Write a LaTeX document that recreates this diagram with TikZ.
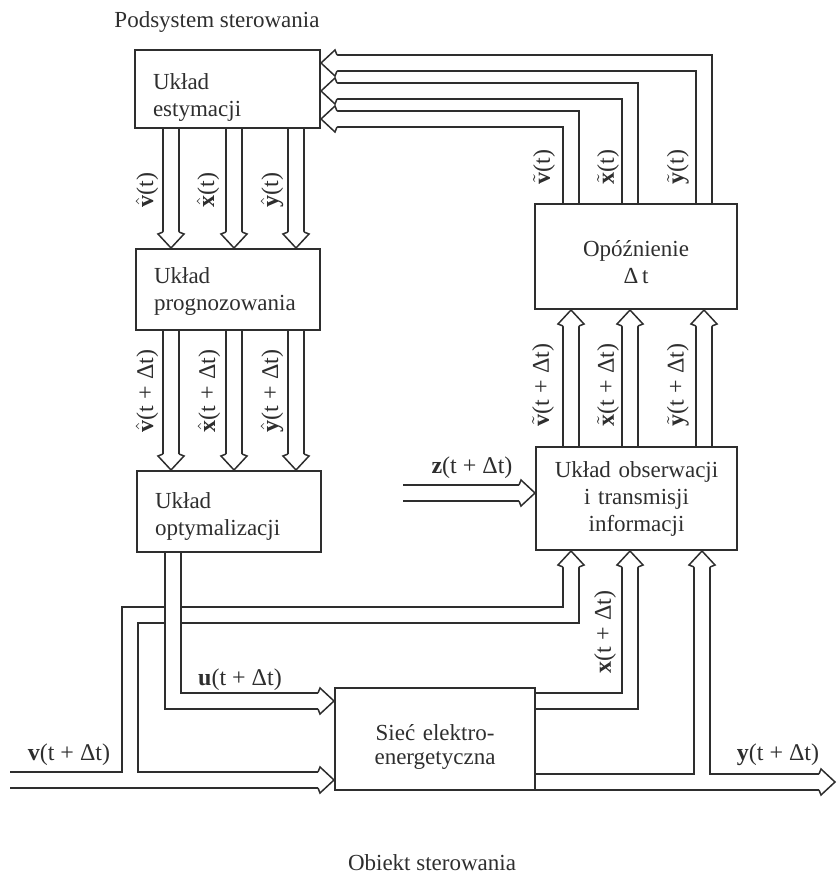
\documentclass[tikz,border=0pt]{standalone}
\usepackage{fontspec}
\setmainfont{Liberation Serif}
\usetikzlibrary{backgrounds}
\definecolor{ink}{HTML}{2E2E2E}
\newcommand\hatb[1]{$\hat{\mbox{\bfseries #1}}$}
\newcommand\tilb[1]{$\tilde{\mbox{\bfseries #1}}$}
\newcommand\pushd[1]{\rule{0pt}{#1pt}}
\tikzset{
  box/.style={draw=ink, line width=1pt, inner xsep=9pt, inner ysep=0pt,
    font=\fontsize{11.5}{13.5}\selectfont, text=ink},
  boxl/.style={box, align=left},
  boxc/.style={box, align=center},
  dbl/.style={draw=ink, line width=0.75pt, double=white, double distance=7.25pt},
  dblin/.style={draw=white, line width=7.25pt},
  lbl/.style={font=\fontsize{12}{14}\selectfont, text=ink, inner sep=0pt},
  capt/.style={font=\fontsize{11.5}{13.5}\selectfont, text=ink, inner sep=0pt},
  hd/.pic={\draw[draw=ink, line width=0.75pt, fill=white, line join=miter]
     (-16,-8) -- (-14,-13) -- (0,0) -- (-14,13) -- (-16,8);},
}
\begin{document}
\begin{tikzpicture}[x=0.5pt, y=-0.5pt]
\useasboundingbox (0,0) rectangle (837,877);

% boxes
\node[boxl, text width=74.5pt, minimum height=39pt] (est) at (227.5,89) {\pushd{16}Układ\\estymacji};
\node[boxl, text width=74pt, minimum height=40.5pt] (prog) at (228,289.5) {\pushd{10}Układ\\prognozowania};
\node[boxl, text width=74pt, minimum height=40.5pt] (opt) at (229,511.5) {\pushd{13}Układ\\optymalizacji};
\node[boxc, text width=83pt, minimum height=52.5pt] (opo) at (636,256.5) {\pushd{13.5}Opóźnienie\\Δ\,t};
\node[boxc, text width=82.5pt, minimum height=51.5pt] (obs) at (636.5,498.5) {Układ obserwacji\\i transmisji\\informacji};
\node[boxc, text width=82pt, minimum height=51pt, font=\fontsize{11.5}{12}\selectfont] (siec) at (435,739) {\pushd{16}Sieć elektro-\\energetyczna};

\coordinate (vin) at (10,780);
\coordinate (yout) at (835,782);
\coordinate (zin) at (403,493);

\begin{scope}[on background layer]
% estymacja -> prognozowanie -> optymalizacja
\foreach \x in {171,234,296} {
  \draw[dbl, shorten >=8pt] (\x,0 |- est.south) -- (\x,0 |- prog.north);
  \pic[rotate=-90] at (\x,0 |- prog.north) {hd};
  \draw[dbl, shorten >=8pt] (\x,0 |- prog.south) -- (\x,0 |- opt.north);
  \pic[rotate=-90] at (\x,0 |- opt.north) {hd};
}
% obserwacja -> opoznienie
\foreach \x in {571,630,704} {
  \draw[dbl, shorten >=8pt] (\x,0 |- obs.north) -- (\x,0 |- opo.south);
  \pic[rotate=90] at (\x,0 |- opo.south) {hd};
}
% opoznienie -> estymacja
\foreach \x/\y in {571/119,630/91,704/63} {
  \draw[dbl, shorten >=8pt] (\x,0 |- opo.north) |- (est.east |- 0,\y);
  \pic[rotate=180] at (est.east |- 0,\y) {hd};
}
% z input
\draw[dbl, shorten >=8pt] (zin) -- (obs.west |- zin);
\pic at (obs.west |- zin) {hd};
% v input with branch
\draw[dbl, shorten >=8pt] (vin) -| (130,615) -| (571,0 |- obs.south);
\pic[rotate=90] at (571,0 |- obs.south) {hd};
\draw[dbl, shorten >=8pt] (vin) -- (siec.west |- vin);
\pic at (siec.west |- vin) {hd};
\draw[dblin] (vin) -| (130,700);
% u
\draw[dbl, shorten >=8pt] (173,0 |- opt.south) |- (siec.west |- 0,701);
\pic at (siec.west |- 0,701) {hd};
% x
\draw[dbl, shorten >=8pt] (siec.east |- 0,701) -| (630,0 |- obs.south);
\pic[rotate=90] at (630,0 |- obs.south) {hd};
% y output with branch
\draw[dbl, shorten >=8pt] (siec.east |- yout) -| (702,0 |- obs.south);
\pic[rotate=90] at (702,0 |- obs.south) {hd};
\draw[dbl, shorten >=8pt] (siec.east |- yout) -- (yout);
\pic at (yout) {hd};
\draw[dblin] (siec.east |- yout) -| (702,740);
\end{scope}

% labels
\node[lbl, rotate=90] (l1) at (147,190) {\hatb{v}(t)};
\node[lbl, rotate=90] (l2) at (208,190) {\hatb{x}(t)};
\node[lbl, rotate=90] (l3) at (272,190) {\hatb{y}(t)};
\node[lbl, rotate=90] (l4) at (147,391) {\hatb{v}(t + Δt)};
\node[lbl, rotate=90] (l5) at (209,391) {\hatb{x}(t + Δt)};
\node[lbl, rotate=90] (l6) at (272,391) {\hatb{y}(t + Δt)};
\node[lbl, rotate=90] (l7) at (544,167) {\tilb{v}(t)};
\node[lbl, rotate=90] (l8) at (608,167) {\tilb{x}(t)};
\node[lbl, rotate=90] (l9) at (678,167) {\tilb{y}(t)};
\node[lbl, rotate=90] (l10) at (543,385) {\tilb{v}(t + Δt)};
\node[lbl, rotate=90] (l11) at (608,385) {\tilb{x}(t + Δt)};
\node[lbl, rotate=90] (l12) at (678,385) {\tilb{y}(t + Δt)};
\node[lbl] (lz) at (472,468) {\textbf{z}(t + Δt)};
\node[lbl] (lu) at (240,680) {\textbf{u}(t + Δt)};
\node[lbl] (lv) at (69,755) {\textbf{v}(t + Δt)};
\node[lbl] (ly) at (778,755) {\textbf{y}(t + Δt)};
\node[lbl, rotate=90] (lx) at (605,632) {\textbf{x}(t + Δt)};

\node[capt] (pod) at (217,22) {Podsystem sterowania};
\node[capt] (obj) at (432,863) {Obiekt sterowania};
\end{tikzpicture}
\end{document}
